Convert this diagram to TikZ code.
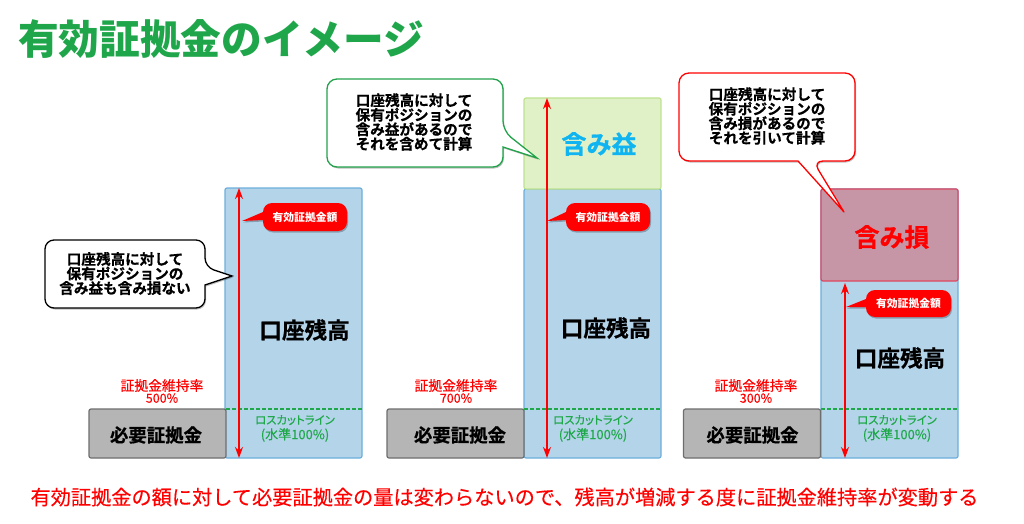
\documentclass[tikz,border=0pt]{standalone}
\usepackage{fontspec}
\setmainfont{Noto Sans CJK JP}
\newfontfamily\heavyjp[FakeBold=0.7]{Noto Sans CJK JP Bold}
\newfontfamily\mediumjp[FakeBold=0.25]{Noto Sans CJK JP}
\newfontfamily\paltjp[FakeBold=0.25,RawFeature=+palt]{Noto Sans CJK JP}
\usetikzlibrary{arrows.meta,shadows}
\definecolor{titlegreen}{HTML}{1FA64A}
\definecolor{bluefill}{HTML}{B4D4EA}
\definecolor{blueline}{HTML}{6CAEDD}
\definecolor{gainfill}{HTML}{E0F1C8}
\definecolor{gainline}{HTML}{BDE38F}
\definecolor{lossfill}{HTML}{C796A6}
\definecolor{lossline}{HTML}{E0475F}
\definecolor{grayfill}{HTML}{B4B4B4}
\definecolor{grayline}{HTML}{6E6E6E}
\definecolor{gaincyan}{HTML}{0FB4F0}
\definecolor{calloutgreen}{HTML}{22A24A}
\definecolor{lineGreen}{HTML}{1FA84A}
\newcommand{\cutlines}{{\paltjp\fontsize{11.4}{15}\selectfont ロスカットライン}\\{\mediumjp\fontsize{13}{15}\selectfont (水準100\%)}}
\newcommand{\ratelines}[1]{{\fontsize{13.8}{13}\selectfont 証拠金維持率}\\{\fontsize{12.5}{13}\selectfont #1\%}}
\tikzset{
  x=1pt,y=-1pt,
  softshadow/.style={drop shadow={shadow xshift=1pt,shadow yshift=-1.5pt,opacity=.25,fill=black}},
  barbox/.style={draw,line width=1.2pt,rounded corners=2pt,minimum width=#1,inner sep=0pt,outer sep=0pt},
  balancebox/.style={barbox=137pt,fill=bluefill,draw=blueline},
  gainbox/.style={barbox=137pt,fill=gainfill,draw=gainline},
  lossbox/.style={barbox=137pt,fill=lossfill,draw=lossline},
  marginbox/.style={barbox=137pt,fill=grayfill,draw=grayline,minimum height=49pt,fill opacity=.98},
  cutline/.style={draw=lineGreen,line width=1.2pt,dash pattern=on 4pt off 2pt},
  span/.style={draw=red,line width=1.5pt},
  bothtip/.style={{Stealth[length=11pt,width=8pt]}-{Stealth[length=11pt,width=8pt]}},
  pill/.style={fill=red,softshadow},
  calloutshape/.style={fill=white,line width=1.3pt,softshadow},
  txt/.style={inner sep=0pt,outer sep=0pt,align=center},
  bigbalance/.style={txt,font=\heavyjp\fontsize{22.6}{22.6}\selectfont},
  bigdelta/.style={txt,font=\heavyjp\fontsize{25}{25}\selectfont},
  marginlabel/.style={txt,font=\heavyjp\fontsize{18.4}{18.4}\selectfont},
  ratelabel/.style={txt,text=red,font=\mediumjp},
  cutlabel/.style={txt,text=lineGreen,font=\mediumjp\fontsize{12}{15}\selectfont},
  pilllabel/.style={txt,text=white,font=\fontsize{10.8}{11}\selectfont\bfseries},
  callouttext/.style={txt,font=\heavyjp\fontsize{14.6}{14.5}\selectfont},
}
\begin{document}
\begin{tikzpicture}
\path[fill=white,use as bounding box] (0,0) rectangle (1024,524);

\node[txt,text=titlegreen,font=\fontsize{40.7}{40.7}\selectfont\bfseries,anchor=west] (title) at (18,39) {有効証拠金のイメージ};

% Column 1
\node[balancebox,minimum height=270pt] (bal1) at (293.5,323) {};
\node[marginbox] (mar1) at (157.5,433.5) {};
\coordinate (cutA1) at (226,409);\coordinate (cutB1) at (362,409);
\draw[cutline] (cutA1) -- (cutB1);
\coordinate (top1) at (239,188);\coordinate (bot1) at (239,458);
\draw[span,bothtip] (top1) -- (bot1);
\fill[pill] (263,212) -- (242,221) -- (263,220) -- cycle;
\node[pill,rounded corners=9pt,minimum width=84pt,minimum height=28pt,inner sep=0pt,pilllabel] (pill1) at (305,217) {有効証拠金額};
\node[bigbalance] (balt1) at (304.5,330) {口座残高};
\node[marginlabel] (mart1) at (156,435) {必要証拠金};
\node[ratelabel] (rate1) at (162,391) {\ratelines{500}};
\node[cutlabel] (cut1) at (295,428.5) {\cutlines};

% Column 2
\node[balancebox,minimum height=269pt] (bal2) at (592.5,323.5) {};
\node[gainbox,minimum height=91pt] (gain2) at (592.5,143.5) {};
\node[marginbox] (mar2) at (455.5,433.5) {};
\coordinate (cutA2) at (524,409);\coordinate (cutB2) at (661,409);
\draw[cutline] (cutA2) -- (cutB2);
\coordinate (top2) at (547,98);\coordinate (bot2) at (547,458);
\draw[span,bothtip] (top2) -- (bot2);
\fill[pill] (566,212) -- (547,221) -- (566,220) -- cycle;
\node[pill,rounded corners=9pt,minimum width=84pt,minimum height=28pt,inner sep=0pt,pilllabel] (pill2) at (608,217) {有効証拠金額};
\node[bigbalance] (balt2) at (606,328) {口座残高};
\node[bigdelta,text=gaincyan] (gaint2) at (599,144) {含み益};
\node[marginlabel] (mart2) at (460,435) {必要証拠金};
\node[ratelabel] (rate2) at (456,391) {\ratelines{700}};
\node[cutlabel] (cut2) at (593,428.5) {\cutlines};

% Column 3
\node[balancebox,minimum height=269pt] (bal3) at (889.5,323.5) {};
\node[lossbox,minimum height=92pt] (loss3) at (889.5,235) {};
\node[marginbox] (mar3) at (752,433.5) {};
\coordinate (cutA3) at (821,409);\coordinate (cutB3) at (958,409);
\draw[cutline] (cutA3) -- (cutB3);
\coordinate (top3) at (845,283);\coordinate (bot3) at (845,458);
\draw[span,bothtip] (top3) -- (bot3);
\fill[pill] (866,299) -- (846,307) -- (866,307) -- cycle;
\node[pill,rounded corners=9pt,minimum width=85pt,minimum height=27pt,inner sep=0pt,pilllabel] (pill3) at (908.5,303.5) {有効証拠金額};
\node[bigbalance] (balt3) at (900,358) {口座残高};
\node[bigdelta,text=red] (losst3) at (892,237) {含み損};
\node[marginlabel] (mart3) at (752.5,435) {必要証拠金};
\node[ratelabel] (rate3) at (756,391) {\ratelines{300}};
\node[cutlabel] (cut3) at (897,428.5) {\cutlines};

% Callouts
\draw[calloutshape,draw=black] (205,285) [rounded corners=9pt] -- (205,308) -- (45,308) -- (45,240) -- (205,240) -- (205,267) [sharp corners] -- (232,276) -- cycle;
\node[callouttext] (c1) at (125,273.5) {口座残高に対して\\保有ポジションの\\含み益も含み損ない};

\draw[calloutshape,draw=calloutgreen] (503,147) [rounded corners=10pt] -- (503,167) -- (327,167) -- (327,79) -- (503,79) -- (503,131) [sharp corners] -- (537,158) -- cycle;
\node[callouttext] (c2) at (414,122) {口座残高に対して\\保有ポジションの\\含み益があるので\\それを含めて計算};

\draw[calloutshape,draw=red] (798,161) [rounded corners=10pt] -- (679,161) -- (679,73) -- (855,73) -- (855,161) -- (813,161) [sharp corners] -- (844,212) -- cycle;
\node[callouttext] (c3) at (767,116) {口座残高に対して\\保有ポジションの\\含み損があるので\\それを引いて計算};

\node[txt,text=red,font=\mediumjp\fontsize{20.2}{20}\selectfont] (foot) at (504.5,497) {有効証拠金の額に対して必要証拠金の量は変わらないので、残高が増減する度に証拠金維持率が変動する};
\end{tikzpicture}
\end{document}
